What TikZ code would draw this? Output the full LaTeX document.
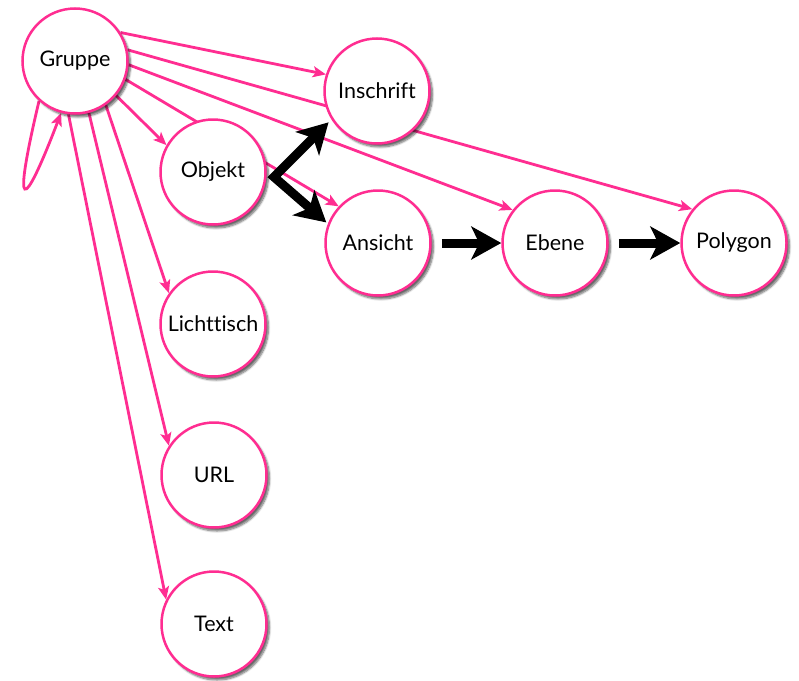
\documentclass[tikz,border=0pt]{standalone}
\usepackage{fontspec}
\setmainfont{Lato}[Ligatures={NoCommon}]
\usetikzlibrary{arrows.meta,shadows.blur}
\pgfdeclarelayer{bg}
\pgfsetlayers{bg,main}
\definecolor{pk}{RGB}{255,45,145}
\begin{document}
\begin{tikzpicture}[x=1pt,y=-1pt,
 ent/.style={circle,draw=pk,line width=2.5pt,fill=white,minimum size=105pt,inner sep=0pt,
   font=\fontsize{21.5}{24}\selectfont,
   blur shadow={shadow xshift=3pt,shadow yshift=-3.5pt,shadow blur steps=7,shadow opacity=60}},
 pl/.style={draw=pk,line width=2.8pt,-{Stealth[length=13pt,width=11pt,inset=3pt]}},
 bl/.style={draw=black,line width=9pt,line join=miter,-{Stealth[length=30pt,width=33pt,inset=8pt]}}]
\useasboundingbox (0,0) rectangle (799,680);
\node[ent] (G) at (75,61) {Gruppe};
\node[ent] (I) at (377,91) {Inschrift};
\node[ent] (O) at (213,172) {Objekt};
\node[ent] (A) at (378,243) {Ansicht};
\node[ent] (E) at (555,243) {Ebene};
\node[ent] (P) at (734,243) {Polygon};
\node[ent] (L) at (213,324) {Lichttisch};
\node[ent] (U) at (214,475) {URL};
\node[ent] (T) at (214,624) {Text};
\coordinate (f) at (274,177);
\begin{pgfonlayer}{bg}
\draw[pl] (G.32) -- (I.162);
\draw[pl] (G.12) -- (P.141);
\draw[pl] (G.-4) -- (E.142);
\draw[pl] (G.-20) -- (A.137);
\draw[pl] (G.-40) -- (O.150);
\draw[pl] (G.-55) -- (L.145);
\draw[pl] (G.-75) -- (U.147);
\draw[pl] (G.-97) -- (T.153);
\draw[pl] (G.-132) .. controls (12,215) and (22,215) .. (G.-105);
\end{pgfonlayer}
\draw[bl,{Stealth[length=30pt,width=33pt,inset=8pt]}-{Stealth[length=30pt,width=33pt,inset=8pt]},shorten <=4pt,shorten >=2pt] (I.212) -- (f) -- (A.159);
\draw[bl] ([xshift=10pt]A.east) -- (E.west);
\draw[bl] ([xshift=10pt]E.east) -- (P.west);
\end{tikzpicture}
\end{document}
